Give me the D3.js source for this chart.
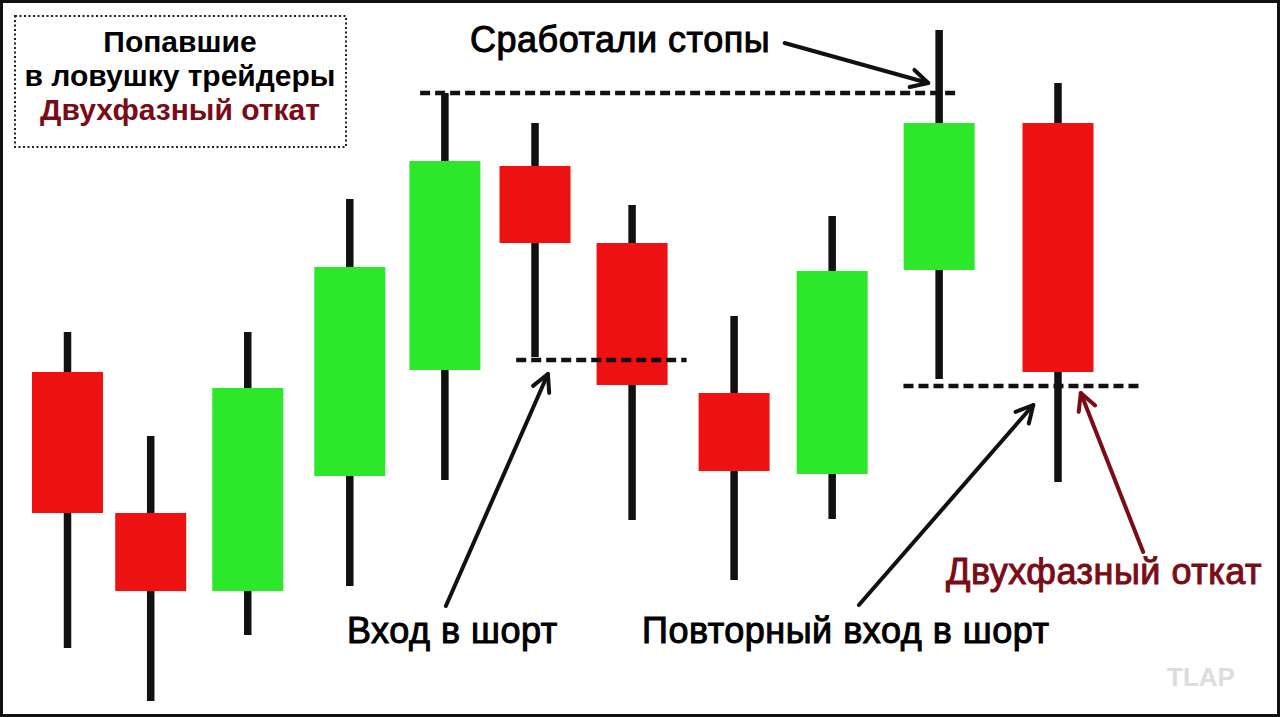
<!DOCTYPE html>
<html>
<head>
<meta charset="utf-8">
<script src="https://cdn.jsdelivr.net/npm/d3@7"></script>
<style>
  html, body { margin: 0; padding: 0; background: #fff; }
  svg { display: block; font-family: "Liberation Sans", Arial, sans-serif; }
</style>
</head>
<body>
<script>
// candle data (slot = position along the time axis, prices in chart units)
const slots  = [0, 0.84, 1.82, 2.85, 3.81, 4.72, 5.70, 6.73, 7.72, 8.80, 10];
const opens  = [33.8, 19.7, 11.9, 23.4, 34.0, 54.4, 46.7, 31.7, 23.6, 44.0, 58.7];
const closes = [19.7, 11.9, 32.2, 44.3, 54.9, 46.7, 32.5, 23.9, 43.9, 58.7, 33.8];
const highs  = [37.8, 27.4, 37.8, 51.1, 61.7, 58.7, 50.5, 39.4, 49.4, 68.0, 62.7];
const lows   = [6.2, 0.9, 7.5, 12.4, 23.0, 35.3, 19.0, 13.0, 19.1, 33.1, 22.8];

// dashed levels: [price, fromSlot, toSlot]
const levels = [[61.7, 3.56, 8.99], [35.0, 4.53, 6.25], [32.4, 8.44, 10.83]];

// arrows in chart units: from -> to
const arrows = [
  {x1: 7.24, y1: 66.7, x2: 8.69, y2: 62.7, c: "#111"},
  {x1: 3.82, y1: 10.4, x2: 4.85, y2: 33.6, c: "#111"},
  {x1: 7.99, y1: 10.5, x2: 9.75, y2: 30.5, c: "#111"},
  {x1: 10.86, y1: 15.8, x2: 10.23, y2: 31.7, c: "#7a0c18"}
];

const W = 1280, H = 717;
const candles = slots.map((s, i) => ({s, o: opens[i], c: closes[i], h: highs[i], l: lows[i]}));

const svg = d3.select('body').append('svg').attr('width', W).attr('height', H);

const x = d3.scaleLinear().domain([0, 10]).range([67.5, 1058]);
const y = d3.scaleLinear().domain([0, 70]).range([710, 10]);
const bodyW = 71;

// frame
svg.append('rect')
  .attr('x', 1.5).attr('y', 1.5)
  .attr('width', W - 3).attr('height', H - 3)
  .attr('fill', '#fff').attr('stroke', '#111').attr('stroke-width', 3);

// legend box
const lg = svg.append('g');
lg.append('rect')
  .attr('x', 15).attr('y', 16).attr('width', 331).attr('height', 131)
  .attr('fill', 'none').attr('stroke', '#222').attr('stroke-width', 2)
  .attr('stroke-dasharray', '2,2.5');
const legendLines = [["Попавшие", "#000"], ["в ловушку трейдеры", "#000"], ["Двухфазный откат", "#7a0c18"]];
lg.selectAll('text').data(legendLines).enter().append('text')
  .attr('x', 180).attr('y', (d, i) => 52 + i * 34)
  .attr('text-anchor', 'middle')
  .attr('font-size', 30).attr('font-weight', 'bold')
  .attr('fill', d => d[1])
  .text(d => d[0]);

// wicks
svg.selectAll('line.wick').data(candles).enter().append('line')
  .attr('class', 'wick')
  .attr('x1', d => x(d.s)).attr('x2', d => x(d.s))
  .attr('y1', d => y(d.h)).attr('y2', d => y(d.l))
  .attr('stroke', '#111').attr('stroke-width', 7.5);

// bodies
svg.selectAll('rect.body').data(candles).enter().append('rect')
  .attr('class', 'body')
  .attr('x', d => x(d.s) - bodyW / 2)
  .attr('width', bodyW)
  .attr('y', d => y(Math.max(d.o, d.c)))
  .attr('height', d => Math.abs(y(d.o) - y(d.c)))
  .attr('fill', d => d.c > d.o ? '#2de82a' : '#ee1111');

// dashed levels
svg.selectAll('line.level').data(levels).enter().append('line')
  .attr('x1', d => x(d[1])).attr('x2', d => x(d[2]))
  .attr('y1', d => y(d[0])).attr('y2', d => y(d[0]))
  .attr('stroke', '#111').attr('stroke-width', 4.5)
  .attr('stroke-dasharray', '10,5');

// arrows
arrows.forEach(a => {
  const X1 = x(a.x1), Y1 = y(a.y1), X2 = x(a.x2), Y2 = y(a.y2);
  const ang = Math.atan2(Y2 - Y1, X2 - X1);
  const len = 19, spread = Math.PI / 6.5;
  const g = svg.append('g').attr('stroke', a.c).attr('stroke-width', 4).attr('fill', 'none')
    .attr('stroke-linecap', 'round').attr('stroke-linejoin', 'round');
  g.append('line').attr('x1', X1).attr('y1', Y1).attr('x2', X2).attr('y2', Y2);
  g.append('path').attr('d',
    `M${X2 - len * Math.cos(ang - spread)},${Y2 - len * Math.sin(ang - spread)}` +
    `L${X2},${Y2}` +
    `L${X2 - len * Math.cos(ang + spread)},${Y2 - len * Math.sin(ang + spread)}`);
});

// annotation labels
const labels = [
  {t: "Сработали стопы", x: 470, y: 52, c: "#000"},
  {t: "Вход в шорт", x: 347, y: 643, c: "#000"},
  {t: "Повторный вход в шорт", x: 642, y: 643, c: "#000"},
  {t: "Двухфазный откат", x: 946, y: 584, c: "#7a0c18"}
];
svg.selectAll('text.lab').data(labels).enter().append('text')
  .attr('class', 'lab')
  .attr('x', d => d.x).attr('y', d => d.y)
  .attr('font-size', 36)
  .attr('letter-spacing', 0.5)
  .attr('fill', d => d.c)
  .attr('stroke', d => d.c).attr('stroke-width', 1)
  .text(d => d.t);

// watermark
svg.append('text')
  .attr('x', 1201).attr('y', 686).attr('text-anchor', 'middle')
  .attr('font-size', 26).attr('font-weight', 'bold')
  .attr('fill', '#dcdcdc')
  .text('TLAP');
</script>
</body>
</html>
